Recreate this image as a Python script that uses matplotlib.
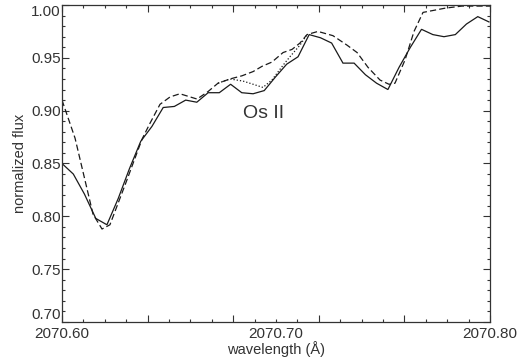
"""
Os II line profile: observed spectrum vs. two model spectra.
"""

import matplotlib
matplotlib.use('Agg')
import matplotlib.pyplot as plt
from matplotlib.ticker import MultipleLocator, FormatStrFormatter

plt.rcParams['font.family'] = ['Liberation Sans', 'DejaVu Sans']

# observed spectrum (solid)
obs_wave = [2070.6000, 2070.6053, 2070.6105, 2070.6158, 2070.6210, 2070.6263,
            2070.6315, 2070.6368, 2070.6420, 2070.6473, 2070.6525, 2070.6578,
            2070.6630, 2070.6683, 2070.6735, 2070.6788, 2070.6840, 2070.6893,
            2070.6945, 2070.6998, 2070.7050, 2070.7103, 2070.7155, 2070.7208,
            2070.7260, 2070.7313, 2070.7365, 2070.7418, 2070.7470, 2070.7523,
            2070.7575, 2070.7628, 2070.7680, 2070.7733, 2070.7785, 2070.7838,
            2070.7890, 2070.7943, 2070.7995]
obs_flux = [0.850, 0.840, 0.821, 0.798, 0.792, 0.817,
            0.845, 0.871, 0.885, 0.903, 0.904, 0.910,
            0.908, 0.917, 0.917, 0.925, 0.917, 0.916,
            0.919, 0.932, 0.944, 0.951, 0.972, 0.969,
            0.964, 0.945, 0.945, 0.934, 0.926, 0.920,
            0.941, 0.960, 0.977, 0.972, 0.970, 0.972,
            0.982, 0.989, 0.984]

# model with Os II (dashed)
mod_wave = [2070.6000, 2070.6061, 2070.6145, 2070.6187, 2070.6224, 2070.6299,
            2070.6374, 2070.6411, 2070.6458, 2070.6505, 2070.6551, 2070.6631,
            2070.6682, 2070.6729, 2070.6785, 2070.6841, 2070.6893, 2070.6935,
            2070.6981, 2070.7033, 2070.7075, 2070.7112, 2070.7145, 2070.7196,
            2070.7266, 2070.7332, 2070.7379, 2070.7430, 2070.7486, 2070.7528,
            2070.7556, 2070.7603, 2070.7645, 2070.7687, 2070.7790, 2070.7869,
            2070.8000]
mod_flux = [0.910, 0.874, 0.802, 0.788, 0.792, 0.832,
            0.873, 0.888, 0.906, 0.913, 0.916, 0.911,
            0.918, 0.926, 0.930, 0.933, 0.937, 0.942,
            0.946, 0.955, 0.958, 0.964, 0.972, 0.975,
            0.971, 0.962, 0.955, 0.941, 0.929, 0.925,
            0.926, 0.948, 0.975, 0.993, 0.997, 0.999,
            0.999]

# model without Os II (dotted), only where it departs from the dashed one
noos_wave = [2070.6729, 2070.6785, 2070.6846, 2070.6893, 2070.6939, 2070.6981,
             2070.7033, 2070.7065, 2070.7112, 2070.7145]
noos_flux = [0.926, 0.930, 0.928, 0.925, 0.922, 0.929,
             0.943, 0.951, 0.962, 0.972]

x_labels = [2070.60, 2070.70, 2070.80]

text_col = '#333333'
line_col = '#1a1a1a'

fig = plt.figure(figsize=(5.24, 3.58), dpi=100)
ax = fig.add_axes([0.1183, 0.1006, 0.8168, 0.8854])

ax.plot(obs_wave, obs_flux, color=line_col, lw=0.9, solid_joinstyle='miter')
ax.plot(mod_wave, mod_flux, color=line_col, lw=0.9, dashes=(5, 2.5))
ax.plot(noos_wave, noos_flux, color=line_col, lw=0.9, dashes=(1, 1.6))

ax.text(2070.6944, 0.897, 'Os II', fontsize=14, color=text_col,
        ha='center', va='center')

ax.set_xlim(2070.60, 2070.80)
ax.set_ylim(0.70, 1.00)

for sp in ax.spines.values():
    sp.set_color('#333333')
    sp.set_linewidth(0.9)

# ticks on all four sides, pointing in
ax.xaxis.set_major_locator(MultipleLocator(0.04))
ax.xaxis.set_minor_locator(MultipleLocator(0.01))
ax.set_yticks([0.70, 0.75, 0.80, 0.85, 0.90, 0.95, 1.00])
ax.yaxis.set_minor_locator(MultipleLocator(0.01))
ax.yaxis.set_major_formatter(FormatStrFormatter('%.2f'))
ax.tick_params(which='both', direction='in', top=True, right=True,
               colors='#333333', width=0.8, labelsize=11, labelcolor=text_col)
ax.tick_params(axis='x', which='both', labelbottom=False)
ax.tick_params(which='major', length=5)
ax.tick_params(which='minor', length=2.5)
ax.tick_params(axis='y', which='major', pad=1)

ylabs = ax.get_yticklabels()
ylabs[0].set_va('bottom')
ylabs[-1].set_va('top')

# wavelength labels sit on their own axis, without tick marks
sec = ax.secondary_xaxis('bottom')
sec.set_xticks(x_labels)
sec.xaxis.set_major_formatter(FormatStrFormatter('%.2f'))
sec.tick_params(length=0, labelsize=11, labelcolor=text_col, pad=3.5)
sec.spines['bottom'].set_visible(False)
sec.set_xlabel('wavelength (Å)', fontsize=10.5, color=text_col, labelpad=0)

ax.set_ylabel('normalized flux', fontsize=10.5, color=text_col, labelpad=3)

fig.savefig('out.png', dpi=100)
